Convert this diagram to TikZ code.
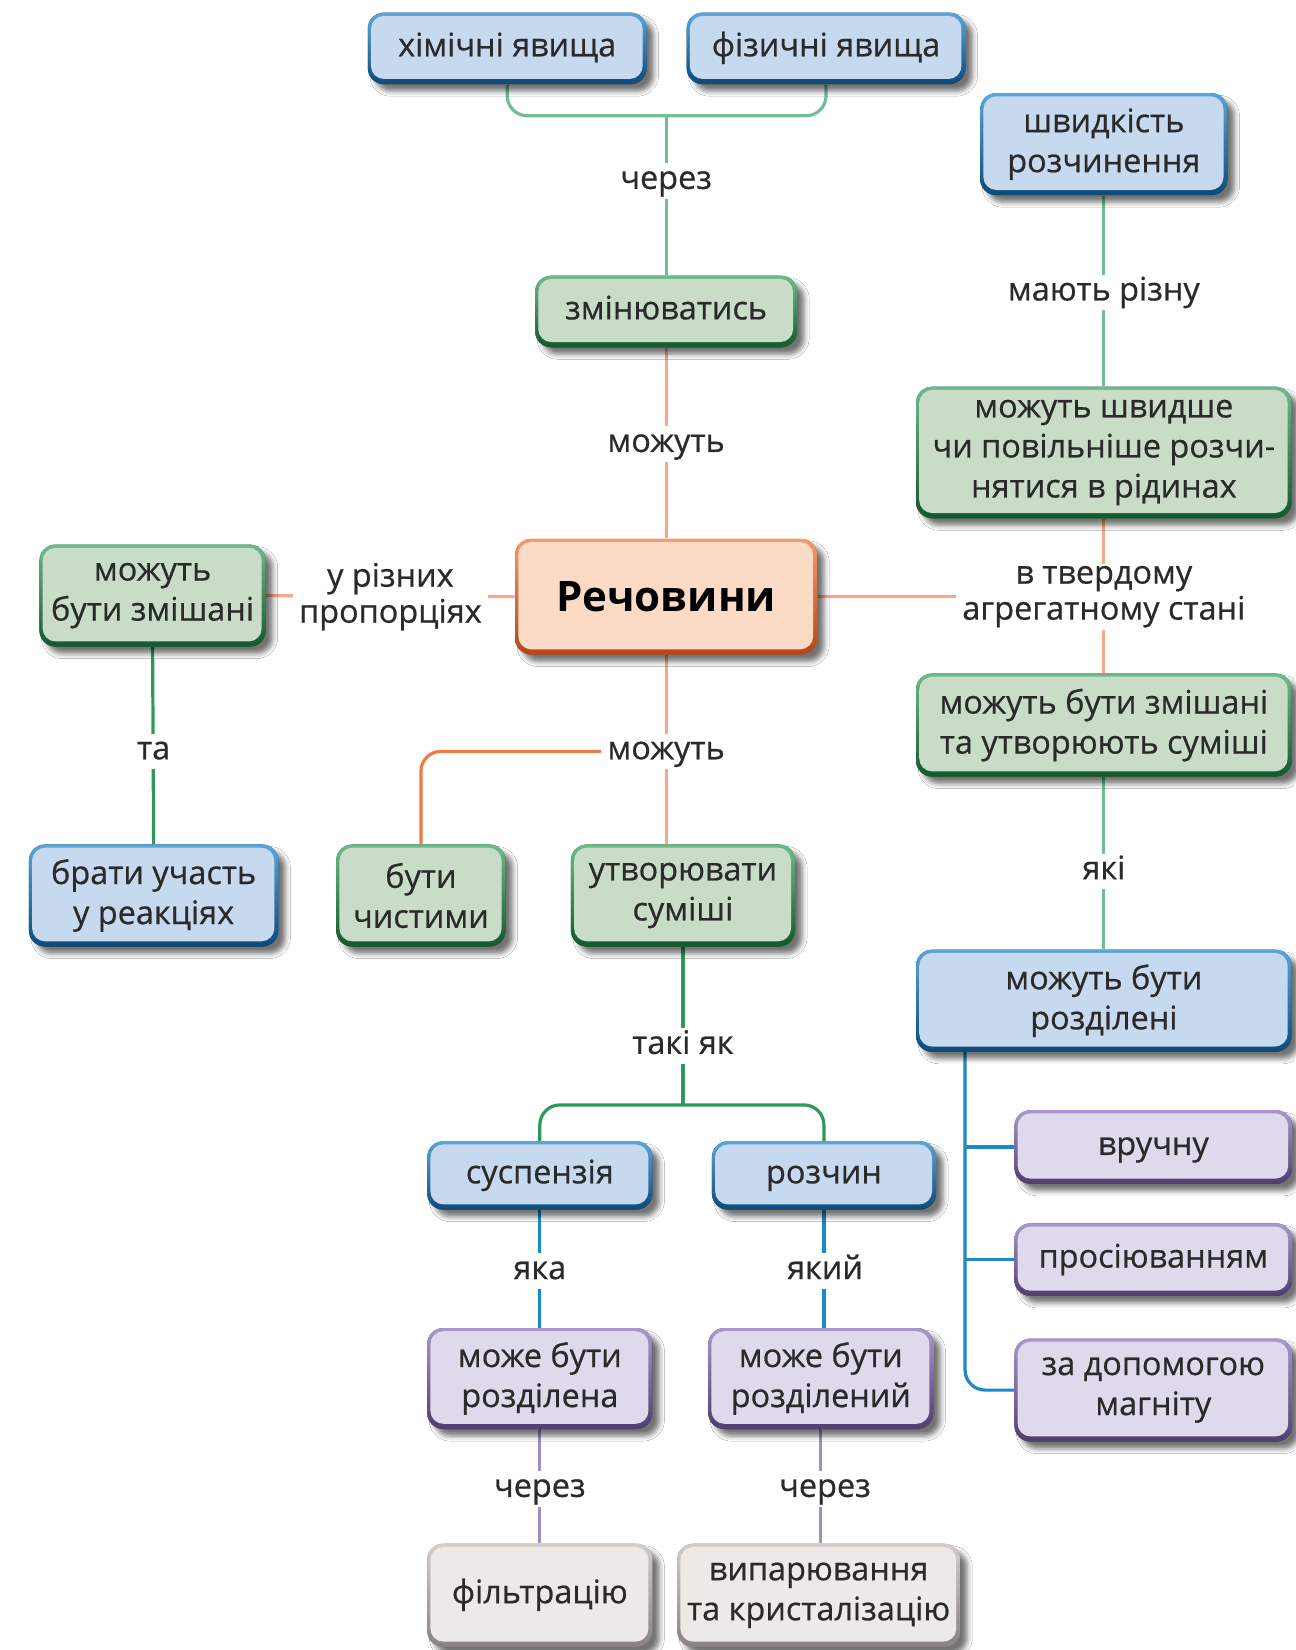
\documentclass[tikz,border=0pt]{standalone}
\usepackage{fontspec}
\setmainfont{Open Sans}
\newfontfamily\boxfont{Open Sans}[FakeBold=0.6]
\usetikzlibrary{shadows.blur,backgrounds}
\definecolor{txt}{HTML}{2A2A2A}
\definecolor{bFill}{HTML}{C6D9EF}
\definecolor{bTop}{HTML}{5AA5DA}
\definecolor{bBot}{HTML}{0E4A78}
\definecolor{gFill}{HTML}{C8DCC8}
\definecolor{gTop}{HTML}{6DBB8C}
\definecolor{gBot}{HTML}{14582E}
\definecolor{oFill}{HTML}{FBDBC6}
\definecolor{oTop}{HTML}{F59A6E}
\definecolor{oBot}{HTML}{B3481A}
\definecolor{pFill}{HTML}{DEDAEC}
\definecolor{pTop}{HTML}{A898CB}
\definecolor{pBot}{HTML}{4F3F70}
\definecolor{rFill}{HTML}{ECE9E7}
\definecolor{rTop}{HTML}{D3CDCB}
\definecolor{rBot}{HTML}{8A8282}
\definecolor{lnGl}{HTML}{72BE93}
\definecolor{lnGd}{HTML}{2E9A5A}
\definecolor{lnOl}{HTML}{F7A886}
\definecolor{lnOd}{HTML}{F07A45}
\definecolor{lnB}{HTML}{1F87C8}
\definecolor{lnP}{HTML}{A08FC4}
\tikzset{
  box/.style n args={5}{
    rounded corners=8pt, minimum width=#1*0.526pt, minimum height=#2*0.526pt,
    inner sep=0pt, align=center, text=txt,
    font=\boxfont\fontsize{16.2}{20}\selectfont,
    fill=#5,
    blur shadow={shadow xshift=3.5pt, shadow yshift=-3.5pt, shadow blur radius=2.5pt, shadow opacity=55},
    path picture={
      \shade[top color=#4, bottom color=#5] (path picture bounding box.north west) rectangle (path picture bounding box.south east);
      \fill[#3, rounded corners=6.5pt] ([shift={(1.6pt,-1.6pt)}]path picture bounding box.north west) rectangle ([shift={(-2pt,2.6pt)}]path picture bounding box.south east);
    }},
  bluebox/.style 2 args={box={#1}{#2}{bFill}{bTop}{bBot}},
  greenbox/.style 2 args={box={#1}{#2}{gFill}{gTop}{gBot}},
  orangebox/.style 2 args={box={#1}{#2}{oFill}{oTop}{oBot}},
  purplebox/.style 2 args={box={#1}{#2}{pFill}{pTop}{pBot}},
  graybox/.style 2 args={box={#1}{#2}{rFill}{rTop}{rBot}},
  oneline/.style={text height=11.8pt, text depth=3.9pt},
  lbl/.style={fill=white, inner xsep=3pt, inner ysep=1pt, align=center, text=txt,
    font=\boxfont\fontsize{16.2}{18}\selectfont},
  conn/.style={line width=1.6pt, rounded corners=10pt},
}
\begin{document}
\begin{tikzpicture}[x=0.526pt,y=-0.526pt]
\useasboundingbox (0,0) rectangle (1231,1568);
% boxes
\node[bluebox={265}{68}, oneline] (khim) at (482,46) {хімічні явища};
\node[bluebox={265}{68}, oneline] (fiz) at (785,46) {фізичні явища};
\node[bluebox={235}{97}] (shvyd) at (1049,137) {швидкість\\розчинення};
\node[greenbox={249}{68}, oneline] (zmin) at (633,296) {змінюватись};
\node[greenbox={357}{125}] (mshv) at (1049,430) {можуть швидше\\чи повільніше розчи-\\нятися в рідинах};
\node[orangebox={287}{110}, font=\fontsize{21}{24}\selectfont\bfseries, text=black] (rech) at (633,567) {Речовини};
\node[greenbox={215}{97}] (zmish) at (145,566) {можуть\\бути змішані};
\node[greenbox={357}{98}] (zmish2) at (1049,689) {можуть бути змішані\\та утворюють суміші};
\node[bluebox={237}{97}] (braty) at (146,851) {брати участь\\у реакціях};
\node[greenbox={161}{97}] (chyst) at (400,851) {бути\\чистими};
\node[greenbox={213}{97}] (utv) at (649,851) {утворювати\\суміші};
\node[bluebox={357}{97}] (rozdil) at (1049,951) {можуть бути\\розділені};
\node[bluebox={214}{65}, oneline] (susp) at (513,1117) {суспензія};
\node[bluebox={213}{65}, oneline] (rozch) at (783,1117) {розчин};
\node[purplebox={264}{70}, oneline] (vruch) at (1096,1090) {вручну};
\node[purplebox={264}{69}, oneline] (pros) at (1096,1197) {просіюванням};
\node[purplebox={264}{98}] (magn) at (1096,1321) {за допомогою\\магніту};
\node[purplebox={214}{96}] (rozd1) at (513,1310) {може бути\\розділена};
\node[purplebox={214}{96}] (rozd2) at (780,1310) {може бути\\розділений};
\node[graybox={214}{98}, oneline] (filt) at (513,1516) {фільтрацію};
\node[graybox={269}{98}] (vyp) at (778,1516) {випарювання\\та кристалізацію};
% labels
\node[lbl, oneline] (cherez1) at (633,172) {через};
\node[lbl, oneline] (mozh1) at (633,422) {можуть};
\node[lbl] (propor) at (371,567) {у різних\\пропорціях};
\node[lbl, oneline] (ta) at (146,714) {та};
\node[lbl, oneline] (mozh2) at (633,714) {можуть};
\node[lbl, oneline] (tak) at (649,994) {такі як};
\node[lbl, oneline] (yaka) at (513,1208) {яка};
\node[lbl, oneline] (yakyi) at (784,1208) {який};
\node[lbl, oneline] (cherez2) at (513,1415) {через};
\node[lbl, oneline] (cherez3) at (784,1415) {через};
\node[lbl, oneline] (mayut) at (1049,278) {мають різну};
\node[lbl] (tverd) at (1049,567) {в твердому\\агрегатному стані};
\node[lbl, oneline] (yaki) at (1049,828) {які};
\coordinate (jt) at (633,110);
\coordinate (jb) at (649,1050);
\begin{scope}[on background layer]
\fill[white] (0,0) rectangle (1231,1568);
\draw[conn, lnGl] (khim.south) |- (jt) -| (fiz.south);
\draw[conn, lnGl] (jt) -- (zmin.north);
\draw[conn, lnOl] (zmin.south) -- (rech.north);
\draw[conn, lnOl] (rech.west) -- (zmish.east);
\draw[conn, lnGd] (zmish.south) -- (braty.north);
\draw[conn, lnOl] (rech.south) -- (rech.south |- utv.north);
\draw[conn, lnOd] (mozh2.west) -| (chyst.north);
\draw[conn, lnGd] (utv.south) -- (utv.south |- jb);
\draw[conn, lnGd] (susp.north) |- (jb) -| (rozch.north);
\draw[conn, lnB] (susp.south) -- (rozd1.north);
\draw[conn, lnB] (rozch.south) -- (rozch.south |- rozd2.north);
\draw[conn, lnP] (rozd1.south) -- (filt.north);
\draw[conn, lnP] (rozd2.south) -- (rozd2.south |- vyp.north);
\draw[conn, lnGl] (shvyd.south) -- (mshv.north);
\draw[conn, lnOl] (rech.east) -- (tverd.west);
\draw[conn, lnOl] (tverd.north) -- (mshv.south);
\draw[conn, lnOl] (tverd.south) -- (zmish2.north);
\draw[conn, lnGl] (zmish2.south) -- (rozdil.north);
\coordinate (rail) at ([xshift=47*0.526pt]rozdil.south west);
\draw[conn, lnB] (rail) |- (magn.west);
\draw[conn, lnB] (rail |- vruch.west) -- (vruch.west);
\draw[conn, lnB] (rail |- pros.west) -- (pros.west);
\end{scope}
\end{tikzpicture}
\end{document}
